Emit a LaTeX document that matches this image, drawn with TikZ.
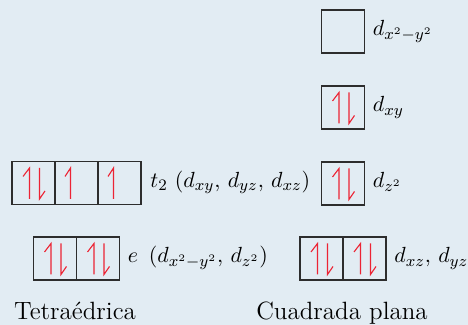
\documentclass[tikz,border=0pt]{standalone}
\usepackage{tikz}
\usetikzlibrary{positioning}
\definecolor{bgblue}{RGB}{226,236,243}
\definecolor{spinred}{RGB}{236,36,52}
\definecolor{boxgray}{RGB}{45,45,45}

\begin{document}
\begin{tikzpicture}[
  x=0.5pt, y=-0.5pt,
  orb/.style={rectangle, draw=boxgray, line width=0.65pt, minimum width=21.5pt, minimum height=21.5pt, inner sep=0pt, outer sep=0pt},
  spin/.style={draw=spinred, line width=0.55pt, line join=miter},
  lbl/.style={font=\fontsize{11}{13}\selectfont, inner sep=0pt, anchor=base west},
  title/.style={font=\fontsize{12.5}{15}\selectfont, inner sep=0pt, anchor=base},
]
\fill[bgblue] (0,0) rectangle (468,325);
\useasboundingbox (0,0) rectangle (468,325);

\node[orb] (t2a) at (33.5,183) {};
\node[orb, right=0pt of t2a] (t2b) {};
\node[orb, right=0pt of t2b] (t2c) {};
\node[lbl] (t2lbl) at ([shift={(9,4.5)}]t2c.east) {$t_2\ (d_{xy},\, d_{yz},\, d_{xz})$};

\node[orb] (ea) at (55,258.5) {};
\node[orb, right=0pt of ea] (eb) {};
\node[lbl] (elbl) at ([shift={(8,4.5)}]eb.east) {$e\ \,(d_{x^2-y^2},\, d_{z^2})$};

\node[orb] (sqa) at (343,31.5) {};
\node[orb] (sqb) at (343,107.5) {};
\node[orb] (sqc) at (343,183.5) {};
\node[orb] (sqd) at (321.5,258.5) {};
\node[orb, right=0pt of sqd] (sqe) {};
\node[lbl] (sqalbl) at ([shift={(8,4.5)}]sqa.east) {$d_{x^2-y^2}$};
\node[lbl] (sqblbl) at ([shift={(8,4.5)}]sqb.east) {$d_{xy}$};
\node[lbl] (sqclbl) at ([shift={(8,4.5)}]sqc.east) {$d_{z^2}$};
\node[lbl] (sqelbl) at ([shift={(8,4.5)}]sqe.east) {$d_{xz},\, d_{yz}$};

\node[title] (tetra) at (75,320) {Tetra\'edrica};
\node[title] (cuad) at (342,320) {Cuadrada plana};

\foreach \b in {t2a,ea,eb,sqb,sqc,sqd,sqe} {
  \draw[spin] ([shift={(-4,16)}]\b.center) -- ++(0,-31) -- ++(-6.5,8.5);
  \draw[spin] ([shift={(6,-15)}]\b.center) -- ++(0,31) -- ++(5.5,-8);
}
\foreach \b in {t2b,t2c} {
  \draw[spin] ([shift={(-6,16)}]\b.center) -- ++(0,-31) -- ++(-5.5,8.5);
}

\end{tikzpicture}
\end{document}
